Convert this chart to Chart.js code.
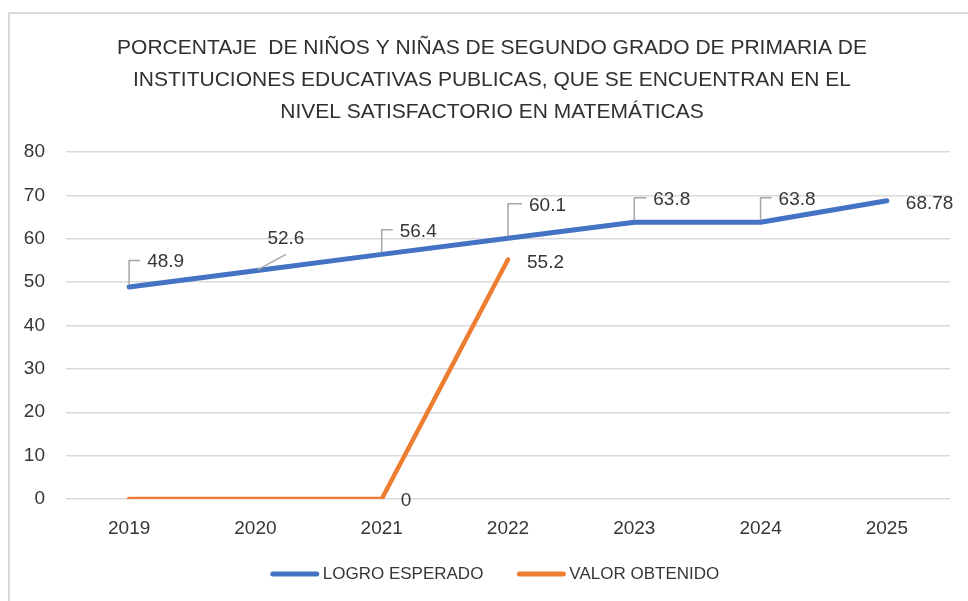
<!DOCTYPE html>
<html><head><meta charset="utf-8">
<script src="https://cdn.jsdelivr.net/npm/chart.js@4"></script>
<style>html,body{margin:0;padding:0;background:#fff;overflow:hidden}</style>
</head><body>
<canvas id="c" width="968" height="601"></canvas>
<script>
// ---- data ----
const categories = ['2019', '2020', '2021', '2022', '2023', '2024', '2025'];
const logroEsperado = [48.9, 52.6, 56.4, 60.1, 63.8, 63.8, 68.78];
const valorObtenido = [0, 0, 0, 55.2, null, null, null];
const seriesNames = ['LOGRO ESPERADO', 'VALOR OBTENIDO'];
const yTicks = [0, 10, 20, 30, 40, 50, 60, 70, 80];
const titleLines = [
  'PORCENTAJE  DE NIÑOS Y NIÑAS DE SEGUNDO GRADO DE PRIMARIA DE',
  'INSTITUCIONES EDUCATIVAS PUBLICAS, QUE SE ENCUENTRAN EN EL',
  'NIVEL SATISFACTORIO EN MATEMÁTICAS'
];
// which points carry a data label (per series)
const labelledPoints = [
  [true, true, true, true, true, true, true],
  [false, false, true, true, false, false, false]
];

// ---- styling ----
const FONT = "'Liberation Sans', Arial, sans-serif";
const TEXT = '#363636';
const COLORS = ['#4472C4', '#ED7D31'];
// label placement relative to point (px) and leader type
const labelPlacement = [
  [{dx:18,dy:-25,leader:'elbow'},{dx:12,dy:-32,leader:'diag'},{dx:18,dy:-23,leader:'elbow'},
   {dx:21,dy:-33,leader:'elbow'},{dx:19,dy:-23,leader:'elbow'},{dx:18,dy:-23,leader:'elbow'},
   {dx:19,dy:3,leader:null}],
  [null,null,{dx:19,dy:2,leader:null},{dx:19,dy:3,leader:null},null,null,null]
];

const framePlugin = {
  id: 'frame',
  beforeDraw(chart) {
    const ctx = chart.ctx;
    ctx.save();
    ctx.strokeStyle = '#D9D9D9';
    ctx.lineWidth = 2;
    ctx.beginPath();
    ctx.moveTo(9, 700); ctx.lineTo(9, 13); ctx.lineTo(1000, 13);
    ctx.stroke();
    ctx.restore();
  }
};

const labelPlugin = {
  id: 'dlabels',
  afterDatasetsDraw(chart) {
    const ctx = chart.ctx;
    ctx.save();
    ctx.font = '19px ' + FONT;
    ctx.textBaseline = 'middle';
    ctx.textAlign = 'left';
    chart.data.datasets.forEach((ds, i) => {
      const meta = chart.getDatasetMeta(i);
      ds.data.forEach((v, j) => {
        if (v === null || !labelledPoints[i][j]) return;
        const pl = labelPlacement[i][j];
        const p = meta.data[j];
        const tx = p.x + pl.dx, ty = p.y + pl.dy;
        const txt = String(v);
        const w = ctx.measureText(txt).width;
        ctx.strokeStyle = '#A6A6A6';
        ctx.lineWidth = 1.5;
        if (pl.leader === 'elbow') {
          ctx.beginPath();
          ctx.moveTo(p.x, p.y - 2);
          ctx.lineTo(p.x, ty - 1.5);
          ctx.lineTo(tx - 7, ty - 1.5);
          ctx.stroke();
        } else if (pl.leader === 'diag') {
          ctx.beginPath();
          ctx.moveTo(p.x + 2, p.y - 1);
          ctx.lineTo(tx + w / 2, ty + 15.5);
          ctx.stroke();
        }
        ctx.fillStyle = TEXT;
        ctx.fillText(txt, tx, ty);
      });
    });
    ctx.restore();
  }
};

const legendPlugin = {
  id: 'customLegend',
  afterDraw(chart) {
    const ctx = chart.ctx;
    ctx.save();
    ctx.font = '17px ' + FONT;
    ctx.textBaseline = 'middle';
    const lineW = 48, gapT = 4, gapItem = 34;
    const items = chart.data.datasets.map(d => ({label: d.label, color: d.borderColor, w: ctx.measureText(d.label).width}));
    let total = 0;
    items.forEach((it, k) => { total += lineW + gapT + it.w + (k < items.length - 1 ? gapItem : 0); });
    let x = 495 - total / 2;
    const y = 574;
    items.forEach(it => {
      ctx.strokeStyle = it.color;
      ctx.lineWidth = 5;
      ctx.lineCap = 'round';
      ctx.beginPath();
      ctx.moveTo(x + 2, y); ctx.lineTo(x + lineW - 2, y);
      ctx.stroke();
      ctx.fillStyle = TEXT;
      ctx.fillText(it.label, x + lineW + gapT, y);
      x += lineW + gapT + it.w + gapItem;
    });
    ctx.restore();
  }
};

new Chart(document.getElementById('c'), {
  type: 'line',
  data: {
    labels: categories,
    datasets: [
      {label: seriesNames[0], data: logroEsperado, borderColor: COLORS[0], backgroundColor: COLORS[0],
       borderWidth: 5, pointRadius: 0, pointHoverRadius: 0, tension: 0, borderCapStyle: 'round', borderJoinStyle: 'round'},
      {label: seriesNames[1], data: valorObtenido, borderColor: COLORS[1], backgroundColor: COLORS[1],
       borderWidth: 4.5, pointRadius: 0, pointHoverRadius: 0, tension: 0, borderCapStyle: 'round', borderJoinStyle: 'round', spanGaps: false}
    ]
  },
  options: {
    responsive: false,
    animation: false,
    devicePixelRatio: 1,
    layout: {padding: {left: 16, right: 0, top: 0, bottom: 0}},
    plugins: {
      legend: {display: false},
      tooltip: {enabled: false},
      title: {
        display: true,
        text: titleLines,
        color: '#303030',
        font: {family: FONT, size: 21, weight: 'normal', lineHeight: 32 / 21},
        padding: {top: 32, bottom: 24}
      }
    },
    scales: {
      x: {
        offset: true,
        grid: {display: false},
        border: {display: false},
        ticks: {color: TEXT, font: {family: FONT, size: 19}, padding: 10, maxRotation: 0},
        afterFit(s) { s.height = 102; }
      },
      y: {
        min: yTicks[0], max: yTicks[yTicks.length - 1],
        afterBuildTicks(s) { s.ticks = yTicks.map(v => ({value: v})); },
        grid: {color: '#D9D9D9', lineWidth: 1.5, drawTicks: false},
        border: {display: false},
        ticks: {color: TEXT, font: {family: FONT, size: 19}, padding: 21},
        afterFit(s) { s.width = 50; }
      },
      yR: {
        type: 'linear', position: 'right', display: true,
        grid: {display: false}, border: {display: false}, ticks: {display: false},
        afterFit(s) { s.width = 18; }
      }
    }
  },
  plugins: [framePlugin, labelPlugin, legendPlugin]
});
</script>
</body></html>
